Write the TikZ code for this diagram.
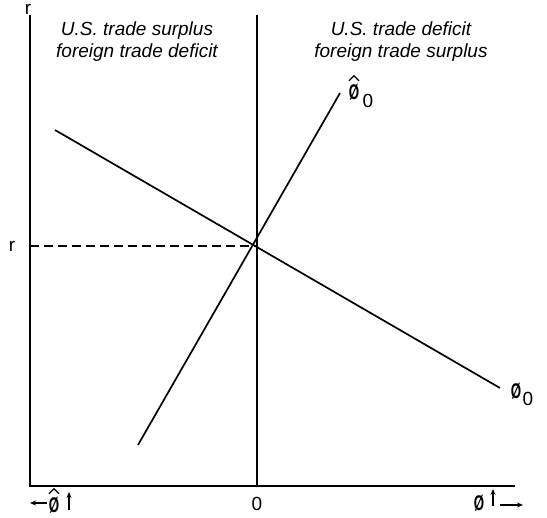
\documentclass[tikz,border=0pt]{standalone}
\usepackage{fontspec}
\setmainfont{Liberation Sans}
\usetikzlibrary{arrows.meta}
\newcommand{\slz}{\scalebox{0.7}[1.12]{\bfseries Ø}}
\begin{document}
\begin{tikzpicture}[x=1pt,y=-1pt,
  ax/.style={line width=1.9pt},
  cv/.style={line width=1.7pt},
  lbl/.style={font=\fontsize{19}{22}\selectfont\itshape, align=center, inner sep=0pt},
  sym/.style={font=\fontsize{19}{20}\selectfont, inner sep=0pt},
  hatst/.style={line width=1.3pt},
  tick/.style={line width=1.4pt,-{Stealth[length=6pt,width=5pt]}}]
\useasboundingbox (0,0) rectangle (547,518);
\coordinate (o) at (30,486);
\coordinate (ytop) at (30,15);
\coordinate (xend) at (515,486);
\coordinate (vtop) at (257,15);
\coordinate (vbot) at (257,486);
\coordinate (eq) at (257,246);
\coordinate (req) at (30,246);
\draw[ax] (ytop) -- (o) -- (xend);
\draw[ax] (vtop) -- (vbot);
\draw[cv,dash pattern=on 9pt off 5pt] (req) -- (eq);
\coordinate (a1) at (55,130);
\coordinate (a2) at (500,388);
\coordinate (b1) at (138,445);
\coordinate (b2) at (340,93);
\draw[cv] (a1) -- (a2);
\draw[cv] (b1) -- (b2);
\node[sym] (rt) at (28,9) {r};
\node[sym] (rl) at (12,246) {r};
\node[lbl] (left) at (137,42) {U.S. trade surplus\\foreign trade deficit};
\node[lbl] (right) at (401,42) {U.S. trade deficit\\foreign trade surplus};
% phi-hat label
\node[sym] (phihat) at (354,92) {\slz};
\node[sym] (phihatsub) at (368,101) {0};
\draw[hatst] ([xshift=-5pt,yshift=3pt]phihat.north) -- ([yshift=8pt]phihat.north) -- ([xshift=5pt,yshift=3pt]phihat.north);
% phi label
\node[sym] (phi) at (516,391) {\slz};
\node[sym] (phisub) at (528,399) {0};
\node[sym] (zero) at (257,504) {0};
\node[sym] (phihatb) at (54,505) {\slz};
\draw[hatst] ([xshift=-5pt,yshift=3pt]phihatb.north) -- ([yshift=8pt]phihatb.north) -- ([xshift=5pt,yshift=3pt]phihatb.north);
\node[sym] (phib) at (479,503) {\slz};
\coordinate (l1) at (47,503); \coordinate (l0) at (30,503);
\coordinate (u1) at (69,510); \coordinate (u0) at (69,492);
\coordinate (u3) at (493,506); \coordinate (u2) at (493,489);
\coordinate (r0) at (500,505); \coordinate (r1) at (523,505);
\draw[tick] (l1) -- (l0);
\draw[tick] (u1) -- (u0);
\draw[tick] (u3) -- (u2);
\draw[tick] (r0) -- (r1);
\end{tikzpicture}
\end{document}
